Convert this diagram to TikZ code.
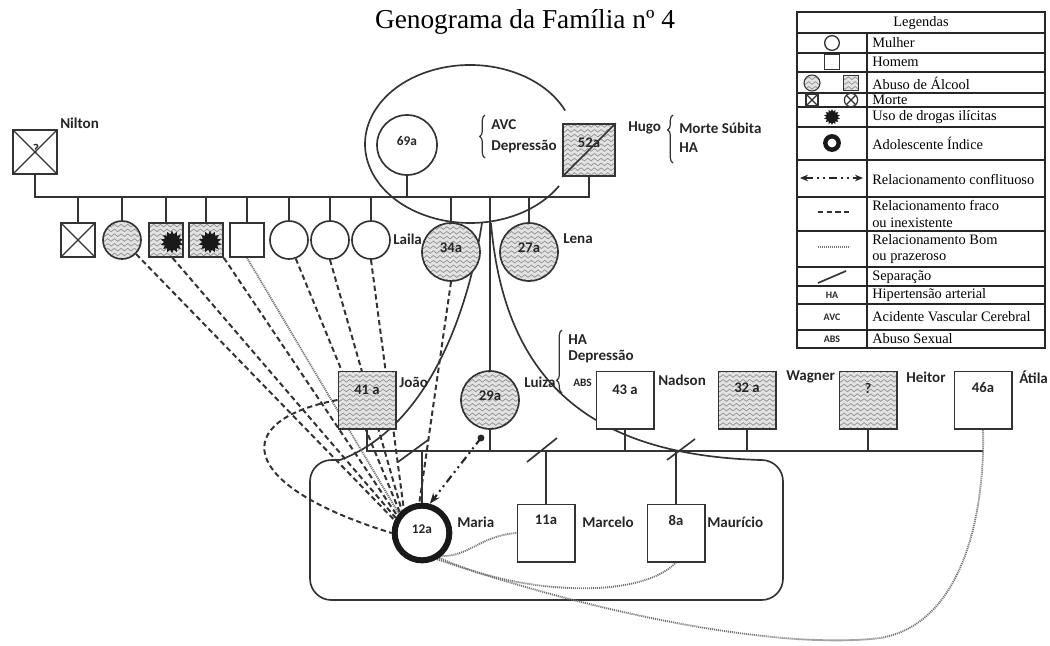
\documentclass[tikz,border=0pt]{standalone}
\usepackage{fontspec}
\setmainfont{Liberation Serif}
\newfontfamily\lab{Carlito}
\usetikzlibrary{shapes.geometric,decorations.pathmorphing,decorations.pathreplacing,arrows.meta}
\pgfdeclarelayer{bg}
\pgfsetlayers{bg,main}
\tikzset{
 ln/.style={line width=1.25pt, draw=black!80},
 sq/.style={rectangle, draw=black!80, line width=1.25pt, fill=white, inner sep=0pt, minimum size=#1},
 ci/.style={circle, draw=black!80, line width=1.25pt, fill=white, inner sep=0pt, minimum size=#1},
 wavy/.style={fill=gray!22, path picture={%
   \foreach \k in {-9,...,9}{%
     \draw[gray!85, line width=0.55pt, decorate, decoration={snake, amplitude=1pt, segment length=5pt}]
       ([xshift=-3pt, yshift=\k*3.6pt]path picture bounding box.west) -- ([xshift=3pt, yshift=\k*3.6pt]path picture bounding box.east);}}},
 xmark/.style={path picture={\draw[black!80, line width=1pt] (path picture bounding box.north west) -- (path picture bounding box.south east) (path picture bounding box.north east) -- (path picture bounding box.south west);}},
 drug/.style={star, star points=14, star point ratio=1.45, fill=black!90, draw=none, inner sep=0pt, minimum size=#1},
 lbl/.style={font=\lab\bfseries\fontsize{11.3}{12}\selectfont, inner sep=0pt, anchor=west, text=black!85},
 age/.style={font=\lab\bfseries\fontsize{11}{12}\selectfont, inner sep=0pt, text=black!85},
 leg/.style={font=\fontsize{10.8}{12.5}\selectfont, inner sep=0pt, anchor=west, align=left},
 weak/.style={line width=1.5pt, draw=black!80, dash pattern=on 4pt off 2.5pt},
 good/.style={line width=1.4pt, draw=black!55, dash pattern=on 0.8pt off 0.7pt},
 conf/.style={line width=1.6pt, draw=black!85, dash pattern=on 6pt off 3pt on 1.5pt off 3pt on 1.5pt off 3pt},
 curly/.style={decorate, decoration={brace, amplitude=4pt, aspect=#1}, line width=0.9pt, draw=black!80},
}
\begin{document}
\begin{tikzpicture}[x=0.75pt, y=-0.75pt]
\useasboundingbox (0,0) rectangle (1050,646);
\node[font=\fontsize{20.5}{24}\selectfont] (title) at (525,22) {Genograma da Família nº 4};

% ---------- generation 1
\node[sq=33pt, xmark] (nilton) at (35,152) {};
\node[age, font=\lab\bfseries\fontsize{10}{10}\selectfont] (niltonq) at (36,149) {?};
\node[lbl] (niltonlab) at (60,123) {Nilton};
\node[ci=45pt] (avo) at (407,145) {};
\node[age, font=\lab\bfseries\fontsize{10}{10}\selectfont] (avoage) at (407,141) {69a};
\node[sq=39pt, wavy] (hugo) at (589,150) {};
\node[age] (hugoage) at (589,143) {52a};
\draw[ln] (hugo.south west) -- (hugo.north east);
\node[lbl] (avc) at (491,125) {AVC};
\node[lbl] (dep1) at (491,147) {Depressão};
\draw[curly=0.5] (485,158) -- (485,115);
\node[lbl] (hugolab) at (628,128) {Hugo};
\draw[curly=0.69] (673,163) -- (673,115);
\node[lbl] (morte) at (679,128) {Morte Súbita};
\node[lbl] (ha1) at (679,148) {HA};
\draw[ln] (565.2,110.6) arc[start angle=25, end angle=328, x radius=78.75pt, y radius=59.25pt];

% ---------- generation 2 (Nilton's children)
\node[sq=25.5pt, xmark] (c1) at (78,240) {};
\node[ci=28.5pt, wavy] (c2) at (122,240) {};
\node[sq=25.5pt, wavy] (c3) at (166,240) {};
\node[drug=17pt] (d3) at (172,242) {};
\node[sq=25.5pt, wavy] (c4) at (206,240) {};
\node[drug=17pt] (d4) at (210,242) {};
\node[sq=25.5pt] (c5) at (247,240) {};
\node[ci=28.5pt] (c6) at (289,240) {};
\node[ci=28.5pt] (c7) at (330,240) {};
\node[ci=28.5pt] (c8) at (371,240) {};
\node[lbl] (laila) at (393,239) {Laila};

% Hugo's children
\node[ci=43.5pt, wavy] (n34) at (451,252) {};
\node[age] (n34age) at (451,248) {34a};
\node[ci=43.5pt, wavy] (n27) at (529,252) {};
\node[age] (n27age) at (529,248) {27a};
\node[lbl] (lena) at (563,239) {Lena};

% ---------- generation 3
\node[sq=43pt, wavy] (joao) at (367,400) {};
\node[age] (joaoage) at (367,390) {41 a};
\node[lbl] (joaolab) at (399,382) {João};
\node[ci=43.5pt, wavy] (luiza) at (490,400) {};
\node[age] (luizaage) at (490,396) {29a};
\node[lbl] (luizalab) at (524,382) {Luiza};
\draw[curly=0.2] (562,393) -- (562,330);
\node[lbl] (ha2) at (568,340) {HA};
\node[lbl] (dep2) at (568,357) {Depressão};
\node[lbl, font=\lab\bfseries\fontsize{8.5}{10}\selectfont] (abs) at (573,383) {ABS};
\node[sq=43pt] (nadson) at (625,400) {};
\node[age] (nadsonage) at (625,390) {43 a};
\node[lbl] (nadsonlab) at (658,380) {Nadson};
\node[sq=43pt, wavy] (wagner) at (747,400) {};
\node[age] (wagnerage) at (747,388) {32 a};
\node[lbl] (wagnerlab) at (786,377) {Wagner};
\node[sq=43pt, wavy] (heitor) at (868,400) {};
\node[age] (heitorage) at (868,388) {?};
\node[lbl] (heitorlab) at (906,377) {Heitor};
\node[sq=43pt] (atila) at (983,400) {};
\node[age] (atilaage) at (983,388) {46a};
\node[lbl] (atilalab) at (1019,377) {Átila};

% ---------- generation 4
\node[ci=41pt, line width=4.5pt, draw=black!90] (maria) at (422,533) {};
\node[age, font=\lab\bfseries\fontsize{10}{11}\selectfont] (mariaage) at (422,529) {12a};
\node[lbl] (marialab) at (457,522) {Maria};
\node[sq=43pt] (marcelo) at (546,533) {};
\node[age] (marceloage) at (546,520) {11a};
\node[lbl] (marcelolab) at (582,522) {Marcelo};
\node[sq=43pt] (mauricio) at (676,533) {};
\node[age] (mauricioage) at (676,520) {8a};
\node[lbl] (mauriciolab) at (707,522) {Maurício};

\coordinate (sib) at (0,197);
\coordinate (lz) at (0,451);
\coordinate (cdot) at (481,438);

\begin{pgfonlayer}{bg}
% family lines
\draw[ln] (nilton.south) -- (nilton.south |- sib) -- (hugo.south |- sib) -- (hugo.south);
\foreach \c in {c1,c2,c3,c4,c5,c6,c7,c8,avo,n34,n27,luiza} \draw[ln] (\c) -- (\c |- sib);
\draw[ln] (joao.south) -- (joao.south |- lz) -- (atila.south |- lz);
\foreach \c in {luiza,nadson,wagner,heitor,maria,marcelo,mauricio} \draw[ln] (\c) -- (\c |- lz);
% household
\draw[ln] (482,223) .. controls (465,330) and (420,430) .. (340,460);
\draw[ln] (491,223) .. controls (505,390) and (600,455) .. (760,460);
\draw[ln, rounded corners=16pt] (340,460) -- (310,460) -- (310,600) -- (783,600) -- (783,460) -- (760,460);
% weak relationships
\draw[weak] (c2.-45) -- (maria.155);
\draw[weak] (c3.-70) -- (maria.150);
\draw[weak] (c4.-45) -- (maria.145);
\draw[good] (c5.south) -- (maria.140);
\draw[weak] (c6.-70) -- (maria.137);
\draw[weak] (c7.south) -- (maria.132);
\draw[weak] (c8.south) -- (maria.127);
\draw[weak] (n34.south) -- (maria.95);
\draw[weak] (joao.west) .. controls (230,420) and (235,485) .. (maria.west);
% conflict
\draw[conf, -{Stealth[length=8pt,width=6pt]}] (cdot) -- (maria.75);
% good relationships
\draw[good] (maria.-50) .. controls (470,556) and (480,536) .. (marcelo.west);
\draw[good] (maria.-55) .. controls (520,595) and (640,600) .. (mauricio.south);
\draw[good] (maria.-60) .. controls (600,615) and (780,650) .. (880,638) .. controls (960,625) and (985,520) .. (atila.south);
\end{pgfonlayer}
\fill[black!85] (cdot) circle[radius=2.6pt];
% separations
\draw[ln] (398,462) -- (428,440);
\draw[ln] (527,462) -- (557,438);
\draw[ln] (667,460) -- (695,439);

% ---------- legend
\draw[line width=1.4pt, draw=black!85] (797,12) rectangle (1045,348);
\foreach \y in {33,53,72,93,107,127,160,197,231,267,286,304,330} \draw[line width=0.9pt, draw=black!85] (797,\y) -- (1045,\y);
\draw[line width=0.9pt, draw=black!85] (867,33) -- (867,348);
\node[leg, anchor=center] (lg0) at (921,23) {Legendas};
\node[leg] (lg1) at (872,43) {Mulher};
\node[leg] (lg2) at (872,62) {Homem};
\node[leg] (lg3) at (872,83) {Abuso de Álcool};
\node[leg] (lg4) at (872,100) {Morte};
\node[leg] (lg5) at (872,117) {Uso de drogas ilícitas};
\node[leg] (lg6) at (872,143) {Adolescente Índice};
\node[leg] (lg7) at (872,179) {Relacionamento conflituoso};
\node[leg] (lg8) at (872,214) {Relacionamento fraco\\ou inexistente};
\node[leg] (lg9) at (872,249) {Relacionamento Bom\\ou prazeroso};
\node[leg] (lg10) at (872,277) {Separação};
\node[leg] (lg11) at (872,295) {Hipertensão arterial};
\node[leg] (lg12) at (872,317) {Acidente Vascular Cerebral};
\node[leg] (lg13) at (872,339) {Abuso Sexual};
\node[ci=11pt, line width=1pt] (im) at (832,43) {};
\node[sq=11pt, line width=1pt] (ih) at (832,62) {};
\node[ci=12pt, wavy, line width=0.8pt] (ia1) at (812,83) {};
\node[sq=11pt, wavy, line width=0.8pt] (ia2) at (851,83) {};
\node[sq=9pt, xmark, line width=0.9pt] (ix1) at (812,100) {};
\node[ci=10pt, xmark, line width=0.9pt] (ix2) at (851,100) {};
\node[drug=12pt] (idr) at (832,117) {};
\node[circle, draw=black!90, line width=3.3pt, minimum size=10pt, inner sep=0pt] (iad) at (832,143) {};
\coordinate (icf1) at (800,178);
\coordinate (icf2) at (863,178);
\draw[conf, {Stealth[length=6pt,width=5pt]}-{Stealth[length=6pt,width=5pt]}] (icf1) -- (icf2);
\coordinate (iw1) at (818,212);
\coordinate (iw2) at (850,212);
\draw[weak] (iw1) -- (iw2);
\coordinate (ig1) at (818,247);
\coordinate (ig2) at (850,247);
\draw[good] (ig1) -- (ig2);
\coordinate (is1) at (818,283);
\coordinate (is2) at (846,271);
\draw[ln] (is1) -- (is2);
\node[age, font=\lab\bfseries\fontsize{7.5}{8}\selectfont] (iha) at (832,295) {HA};
\node[age, font=\lab\bfseries\fontsize{7.5}{8}\selectfont] (iavc) at (832,317) {AVC};
\node[age, font=\lab\bfseries\fontsize{7.5}{8}\selectfont] (iabs) at (832,339) {ABS};
\end{tikzpicture}
\end{document}
